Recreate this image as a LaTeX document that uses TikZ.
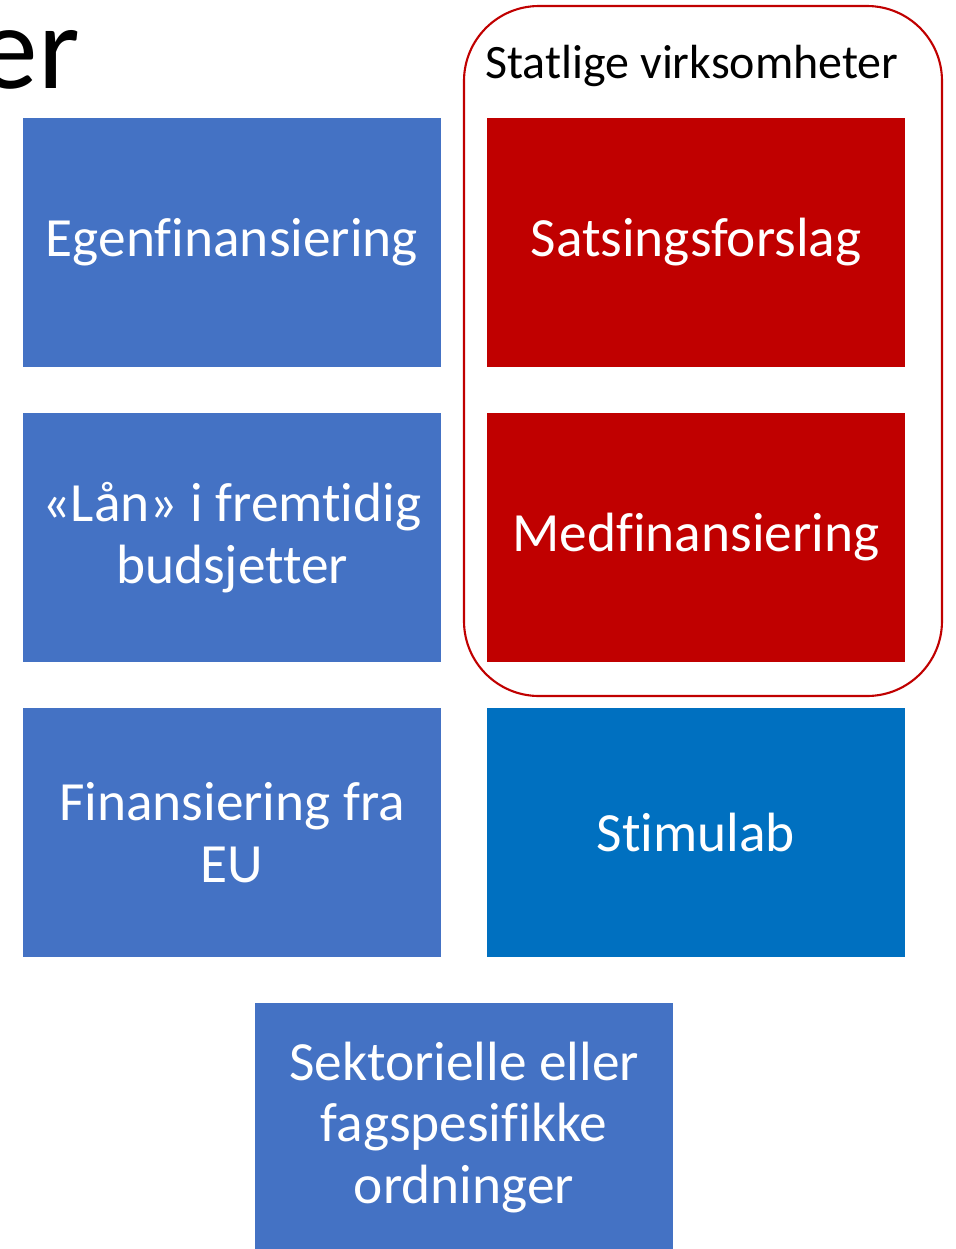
\documentclass[tikz,border=0pt]{standalone}
\usepackage{fontspec}
\setmainfont{Carlito}[Ligatures=NoCommon]
\definecolor{boxblue}{HTML}{4472C4}
\definecolor{boxred}{HTML}{C00000}
\definecolor{stimblue}{HTML}{0070C0}
\tikzset{
  tile/.style={rectangle, minimum width=8.36cm, minimum height=4.98cm, inner sep=0pt,
    align=center, text=white, font=\fontsize{31.5}{35}\selectfont},
  bluetile/.style={tile, fill=boxblue},
  redtile/.style={tile, fill=boxred},
}
\begin{document}
\begin{tikzpicture}[x=0.02cm,y=-0.02cm]

\useasboundingbox (0,0) rectangle (956,1249);

% Tittel (avkuttet)
\node[anchor=base east, font=\fontsize{68}{72}\selectfont, inner sep=0pt] (title) at (80,88) {er};

% Statlige virksomheter
\draw[boxred, line width=1.2pt, rounded corners=1.5cm] (464,6) rectangle (942,696);
\node[anchor=base west, font=\fontsize{27.3}{30}\selectfont, inner sep=0pt] (statlig) at (485,78) {Statlige virksomheter};

% Venstre kolonne
\node[bluetile] (egen) at (232,242.5) {Egenfinansiering};
\node[bluetile] (laan) at (232,537.5) {«Lån» i fremtidig\\budsjetter};
\node[bluetile] (eu) at (232,832.5) {Finansiering fra\\EU};

% Hoyre kolonne
\node[redtile] (sats) at (696,242.5) {Satsingsforslag};
\node[redtile] (medfin) at (696,537.5) {Medfinansiering};
\node[tile, fill=stimblue] (stim) at (696,832.5) {Stimulab};

% Nederst
\node[bluetile] (sektor) at (464,1127.5) {Sektorielle eller\\fagspesifikke\\ordninger};

\end{tikzpicture}
\end{document}
